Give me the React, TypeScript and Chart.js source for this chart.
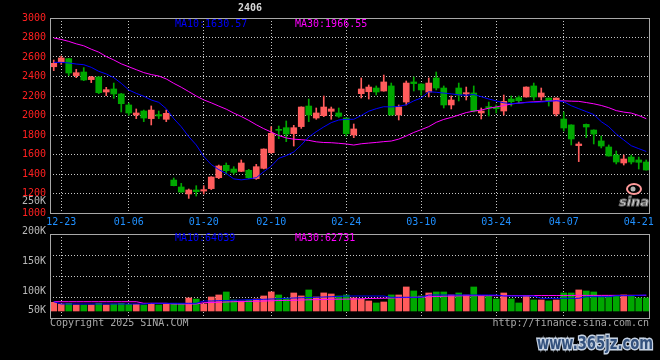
import React, { useEffect, useRef } from 'react';
import { Chart, registerables } from 'chart.js';

Chart.register(...registerables);

// ---------- data ----------
const dates: string[] = [
  '12-20', '12-23', '12-24', '12-25', '12-26', '12-27', '12-30', '12-31', '01-02', '01-03',
  '01-06', '01-07', '01-08', '01-09', '01-10', '01-13', '01-14', '01-15', '01-16', '01-17',
  '01-20', '01-21', '01-22', '01-23', '01-24', '01-27', '02-05', '02-06', '02-07',
  '02-10', '02-11', '02-12', '02-13', '02-14', '02-17', '02-18', '02-19', '02-20', '02-21',
  '02-24', '02-25', '02-26', '02-27', '02-28', '03-03', '03-04', '03-05', '03-06', '03-07',
  '03-10', '03-11', '03-12', '03-13', '03-14', '03-17', '03-18', '03-19', '03-20', '03-21',
  '03-24', '03-25', '03-26', '03-27', '03-28', '03-31', '04-01', '04-02', '04-03',
  '04-07', '04-08', '04-09', '04-10', '04-11', '04-14', '04-15', '04-16', '04-17', '04-18',
  '04-21', '04-22',
];

const tickDates: string[] = ['12-23', '01-06', '01-20', '02-10', '02-24', '03-10', '03-24', '04-07', '04-21'];
const gridDates: string[] = ['12-23', '01-06', '01-20', '02-10', '02-24', '03-10', '03-24', '04-07'];

const opens: number[] = [
  2500, 2552, 2583, 2409, 2446, 2368, 2395, 2241, 2272, 2221,
  2108, 2005, 2046, 1968, 2009, 1961, 1338, 1267, 1195, 1236,
  1225, 1250, 1362, 1489, 1451, 1427, 1438, 1352, 1458, 1619,
  1858, 1875, 1814, 1886, 2097, 1974, 1998, 2043, 2026, 1974,
  1800, 2224, 2244, 2282, 2251, 2303, 2005, 2138, 2344, 2323,
  2241, 2385, 2282, 2108, 2282, 2221, 2231, 2026, 2091, 2084,
  2046, 2169, 2183, 2190, 2303, 2190, 2179, 2015, 1964, 1903,
  1691, 1909, 1851, 1739, 1677, 1595, 1513, 1574, 1544, 1523,
];
const highs: number[] = [
  2569, 2610, 2586, 2474, 2491, 2402, 2398, 2289, 2333, 2227,
  2128, 2067, 2056, 2098, 2046, 2056, 1359, 1304, 1246, 1280,
  1280, 1372, 1492, 1513, 1475, 1544, 1448, 1499, 1658, 1885,
  1892, 1944, 1899, 2089, 2169, 2077, 2200, 2087, 2077, 1976,
  1913, 2385, 2313, 2303, 2415, 2333, 2108, 2354, 2395, 2326,
  2385, 2446, 2303, 2200, 2333, 2292, 2303, 2077, 2138, 2108,
  2210, 2200, 2200, 2294, 2333, 2282, 2181, 2181, 2036, 1905,
  1728, 1913, 1853, 1790, 1698, 1636, 1595, 1595, 1574, 1544,
];
const lows: number[] = [
  2460, 2525, 2409, 2388, 2357, 2337, 2224, 2203, 2176, 2036,
  2002, 1968, 1937, 1903, 1968, 1937, 1278, 1212, 1150, 1174,
  1195, 1240, 1352, 1400, 1400, 1424, 1352, 1345, 1452, 1612,
  1762, 1732, 1687, 1868, 1937, 1961, 1988, 1961, 1981, 1790,
  1773, 2179, 2169, 2210, 2249, 2003, 1954, 2108, 2251, 2210,
  2190, 2262, 2077, 2067, 2149, 2159, 2036, 1964, 1995, 2026,
  2005, 2097, 2128, 2188, 2159, 2159, 2097, 1995, 1841, 1698,
  1527, 1773, 1708, 1667, 1583, 1503, 1492, 1503, 1451, 1439,
];
const closes: number[] = [
  2535, 2590, 2436, 2439, 2364, 2395, 2234, 2265, 2221, 2121,
  2026, 2026, 1974, 2056, 1995, 2022, 1280, 1215, 1236, 1219,
  1240, 1369, 1482, 1434, 1417, 1513, 1362, 1475, 1656, 1817,
  1848, 1810, 1875, 2087, 2005, 2026, 2087, 2067, 1992, 1814,
  1862, 2272, 2292, 2241, 2344, 2005, 2087, 2333, 2327, 2262,
  2333, 2282, 2108, 2159, 2210, 2234, 2046, 2046, 2077, 2070,
  2145, 2142, 2152, 2292, 2190, 2231, 2152, 2179, 1872, 1759,
  1708, 1882, 1810, 1687, 1585, 1523, 1554, 1523, 1520, 1441,
];
const ma10: number[] = [
  2545, 2545, 2539, 2528, 2521, 2494, 2453, 2426, 2388, 2330,
  2262, 2227, 2197, 2159, 2135, 2070, 1968, 1885, 1783, 1698,
  1580, 1497, 1445, 1405, 1350, 1340, 1350, 1362, 1424, 1480,
  1561, 1588, 1626, 1697, 1780, 1834, 1883, 1927, 1954, 1961,
  1961, 2000, 2044, 2070, 2090, 2088, 2094, 2110, 2150, 2180,
  2244, 2238, 2230, 2222, 2212, 2208, 2215, 2193, 2169, 2150,
  2130, 2122, 2126, 2132, 2135, 2138, 2145, 2152, 2142, 2100,
  2070, 2040, 2010, 1937, 1885, 1810, 1749, 1690, 1660, 1631,
];
const ma30: number[] = [
  2795, 2780, 2760, 2735, 2715, 2680, 2650, 2605, 2570, 2530,
  2500, 2470, 2440, 2420, 2405, 2375, 2330, 2290, 2245, 2200,
  2160, 2130, 2097, 2065, 2025, 1990, 1950, 1905, 1865, 1830,
  1795, 1770, 1757, 1752, 1745, 1730, 1723, 1721, 1715, 1708,
  1697, 1710, 1717, 1724, 1732, 1738, 1758, 1790, 1826, 1855,
  1886, 1930, 1960, 1980, 2005, 2030, 2045, 2056, 2075, 2088,
  2102, 2118, 2127, 2135, 2140, 2145, 2148, 2152, 2150, 2147,
  2145, 2133, 2120, 2103, 2080, 2050, 2035, 2025, 2000, 1967,
];
const volumes: number[] = [
  34800, 28100, 30700, 24200, 23900, 24100, 30900, 24300, 28000, 30800,
  26700, 26900, 24100, 30600, 24200, 26800, 30900, 30700, 52100, 47900,
  28200, 56100, 64200, 76100, 44100, 40200, 43900, 48100, 60200, 76300,
  64100, 52200, 72100, 60300, 84200, 56100, 72300, 68100, 60200, 64100,
  52300, 48100, 40100, 32200, 36100, 64200, 64100, 96200, 80100, 60300,
  72100, 76200, 76100, 64300, 72200, 64100, 96100, 60200, 60100, 48200,
  72100, 48300, 32100, 60200, 44200, 44100, 40300, 44100, 72200, 72100,
  84300, 80100, 76200, 60100, 60300, 60200, 64100, 60200, 52100, 52300,
];
const volMa10: number[] = [
  37200, 28000, 28000, 28000, 28000, 28000, 28000, 28000, 28000, 28000,
  28000, 28000, 28000, 30800, 30800, 30800, 30800, 30800, 30800, 30800,
  40000, 40000, 41200, 42000, 43000, 44000, 45000, 46000, 46800, 48000,
  49000, 50800, 52000, 53000, 54000, 54800, 56000, 57000, 58000, 60000,
  60000, 60000, 60000, 60000, 60000, 54800, 54800, 54800, 54800, 54800,
  64000, 64000, 64000, 64000, 64000, 64000, 64000, 64000, 64000, 64000,
  60000, 60000, 60000, 60000, 60000, 50800, 50800, 50800, 50800, 50800,
  50800, 57200, 57200, 57200, 57200, 61200, 61200, 61200, 62500, 64039,
];
const volMa30: number[] = [
  37200, 37200, 37200, 37200, 37200, 37200, 37200, 37200, 37200, 37200,
  37200, 37200, 30800, 30800, 30800, 30800, 28000, 28000, 28000, 28000,
  33200, 34000, 35000, 36000, 37200, 38000, 38500, 39000, 40000, 41000,
  42000, 42500, 43000, 44000, 45000, 45500, 46000, 46800, 47200, 47500,
  48000, 49000, 50000, 50500, 51000, 52000, 53000, 54000, 55000, 56000,
  57200, 58000, 59000, 60000, 60500, 61200, 61200, 61300, 61300, 61400,
  61400, 61500, 61500, 61600, 61700, 61800, 61900, 62000, 62100, 62200,
  62300, 62400, 62400, 62500, 62500, 62600, 62600, 62700, 62700, 62731,
];
const priceMa10Last = '1630.57';
const priceMa30Last = '1966.55';
const volMa10Last = '64039';
const volMa30Last = '62731';
const volAxisValues: number[] = [250000, 200000, 150000, 100000, 50000];
const volAxisTexts: string[] = ['250K', '200K', '150K', '100K', '50K'];
const titleText = '2406';

// ---------- styles ----------
const UP = '#ff5c5c';
const DOWN = '#00a800';
const GRID = '#c8c8c8';
const FRAME = '#a8a8a8';
const MONO = '"DejaVu Sans Mono", "Liberation Mono", monospace';

const candleColors = closes.map((c, i) => (c >= opens[i] ? UP : DOWN));

function xScaleOpts(showTicks: boolean, height: number) {
  return {
    offset: true,
    grid: {
      offset: false,
      drawTicks: false,
      color: (ctx: any) => (gridDates.includes(dates[ctx.index]) ? GRID : 'rgba(0,0,0,0)'),
    },
    border: { display: false, dash: [1, 2] },
    ticks: {
      display: showTicks,
      autoSkip: false,
      maxRotation: 0,
      minRotation: 0,
      padding: 3,
      color: '#2090ff',
      font: { family: MONO, size: 10 },
      callback: (_v: any, i: number) => (tickDates.includes(dates[i]) ? dates[i] : ''),
    },
    afterFit: (s: any) => {
      s.height = height;
    },
  };
}

function frame(chart: any) {
  const { ctx, chartArea: a } = chart;
  ctx.save();
  ctx.strokeStyle = FRAME;
  ctx.lineWidth = 1;
  ctx.strokeRect(Math.round(a.left) + 0.5, Math.round(a.top) + 0.5, Math.round(a.right - a.left) - 1, Math.round(a.bottom - a.top));
  ctx.restore();
}

export default function App() {
  const priceRef = useRef<HTMLCanvasElement | null>(null);
  const volRef = useRef<HTMLCanvasElement | null>(null);

  useEffect(() => {
    if (!priceRef.current || !volRef.current) return;

    const priceOverlay = {
      id: 'priceOverlay',
      afterDraw(chart: any) {
        const { ctx, chartArea: a } = chart;
        frame(chart);
        ctx.save();
        ctx.textBaseline = 'middle';
        ctx.font = `10px ${MONO}`;
        ctx.textAlign = 'left';
        ctx.fillStyle = '#0000ff';
        ctx.fillText('MA10:' + priceMa10Last, a.left + 125, a.top + 6);
        ctx.fillStyle = '#ff00ff';
        ctx.fillText('MA30:' + priceMa30Last, a.left + 245, a.top + 6);
        // title
        ctx.textAlign = 'center';
        ctx.fillStyle = '#d8d8d8';
        ctx.font = `bold 10px ${MONO}`;
        ctx.fillText(titleText, a.left + 200, 8);
        // sina logo
        ctx.strokeStyle = '#ff9a9a';
        ctx.lineWidth = 2;
        ctx.beginPath();
        ctx.ellipse(a.right - 16, a.bottom - 24, 7, 5, 0, 0, Math.PI * 2);
        ctx.stroke();
        ctx.fillStyle = '#b0b0b0';
        ctx.beginPath();
        ctx.arc(a.right - 17, a.bottom - 24, 2.5, 0, Math.PI * 2);
        ctx.fill();
        ctx.font = 'italic bold 13px "DejaVu Sans", sans-serif';
        ctx.fillStyle = '#d0d0d0';
        ctx.strokeStyle = '#707070';
        ctx.lineWidth = 1;
        ctx.fillText('sina', a.right - 16, a.bottom - 10);
        ctx.strokeText('sina', a.right - 16, a.bottom - 10);
        ctx.restore();
      },
    };

    const priceChart = new Chart(priceRef.current, {
      type: 'bar',
      data: {
        labels: dates,
        datasets: [
          {
            type: 'line',
            data: ma10,
            borderColor: '#0000ff',
            borderWidth: 1,
            pointRadius: 0,
            tension: 0,
            order: 0,
          } as any,
          {
            type: 'line',
            data: ma30,
            borderColor: '#ff00ff',
            borderWidth: 1,
            pointRadius: 0,
            tension: 0,
            order: 0,
          } as any,
          {
            type: 'bar',
            data: lows.map((l, i) => [l, highs[i]]),
            backgroundColor: candleColors,
            barThickness: 1,
            grouped: false,
            order: 2,
          } as any,
          {
            type: 'bar',
            data: opens.map((o, i) => [Math.min(o, closes[i]), Math.max(o, closes[i])]),
            backgroundColor: candleColors,
            barThickness: 6,
            minBarLength: 1,
            grouped: false,
            order: 1,
          } as any,
        ],
      },
      options: {
        animation: false,
        responsive: false,
        maintainAspectRatio: false,
        layout: { padding: { top: 18, right: 10, bottom: 127, left: 0 } },
        plugins: { legend: { display: false }, tooltip: { enabled: false } },
        scales: {
          x: xScaleOpts(true, 20) as any,
          y: {
            min: 1000,
            max: 3000,
            grid: { color: GRID, drawTicks: false },
            border: { display: false, dash: [1, 2] },
            ticks: {
              stepSize: 200,
              padding: 4,
              color: '#ff2020',
              font: { family: MONO, size: 10 },
              callback: (v: any) => String(v),
            },
            afterFit: (s: any) => {
              s.width = 50;
            },
          } as any,
        },
      },
      plugins: [priceOverlay],
    });

    const volMin = -28000;
    const volMax = 308000;
    const volOverlay = {
      id: 'volOverlay',
      afterDraw(chart: any) {
        const { ctx, chartArea: a } = chart;
        frame(chart);
        ctx.save();
        ctx.textBaseline = 'middle';
        ctx.font = `10px ${MONO}`;
        ctx.textAlign = 'left';
        ctx.fillStyle = '#0000ff';
        ctx.fillText('MA10:' + volMa10Last, a.left + 125, a.top + 4.5);
        ctx.fillStyle = '#ff00ff';
        ctx.fillText('MA30:' + volMa30Last, a.left + 245, a.top + 4.5);
        // axis labels
        ctx.fillStyle = '#b8b8b8';
        ctx.textAlign = 'right';
        volAxisValues.forEach((v, k) => {
          const y = Math.min(a.top - 3 + ((200000 - v) / 50000) * 30, a.bottom - 8);
          ctx.fillText(volAxisTexts[k], a.left - 4, y);
        });
        // footer
        ctx.fillStyle = '#a8a8a8';
        ctx.textAlign = 'left';
        ctx.fillText('Copyright 2025 SINA.COM', a.left, a.bottom + 5);
        ctx.textAlign = 'right';
        ctx.fillText('http://finance.sina.com.cn', a.right - 1, a.bottom + 5);
        // watermark
        ctx.textAlign = 'left';
        ctx.font = 'bold 17px "DejaVu Sans", sans-serif';
        ctx.lineWidth = 3;
        ctx.strokeStyle = '#c8d4e4';
        ctx.strokeText('www.365jz.com', 537, 345, 116);
        ctx.fillStyle = '#34527e';
        ctx.fillText('www.365jz.com', 537, 345, 116);
        ctx.restore();
      },
    };

    const volChart = new Chart(volRef.current, {
      type: 'bar',
      data: {
        labels: dates,
        datasets: [
          {
            type: 'line',
            data: volMa10,
            borderColor: '#0000ff',
            borderWidth: 1,
            pointRadius: 0,
            tension: 0,
            order: 0,
          } as any,
          {
            type: 'line',
            data: volMa30,
            borderColor: '#ff00ff',
            borderWidth: 1,
            pointRadius: 0,
            tension: 0,
            order: 0,
          } as any,
          {
            type: 'bar',
            data: volumes,
            backgroundColor: candleColors,
            barThickness: 6,
            order: 1,
          } as any,
        ],
      },
      options: {
        animation: false,
        responsive: false,
        maintainAspectRatio: false,
        layout: { padding: { top: 234, right: 10, bottom: 42, left: 0 } },
        plugins: { legend: { display: false }, tooltip: { enabled: false } },
        scales: {
          x: xScaleOpts(false, 0) as any,
          y: {
            min: volMin,
            max: volMax,
            grid: { color: GRID, drawTicks: false },
            border: { display: false, dash: [1, 2] },
            ticks: { display: false },
            afterBuildTicks: (s: any) => {
              s.ticks = [0, 1, 2, 3, 4].map((k) => ({ value: volMin + (k * (volMax - volMin)) / 4 }));
            },
            afterFit: (s: any) => {
              s.width = 50;
            },
          } as any,
        },
      },
      plugins: [volOverlay],
    });

    return () => {
      priceChart.destroy();
      volChart.destroy();
    };
  }, []);

  return (
    <div style={{ position: 'fixed', left: 0, top: 0, width: 660, height: 360, background: '#000', overflow: 'hidden' }}>
      <canvas ref={priceRef} width={660} height={360} style={{ position: 'absolute', left: 0, top: 0 }} />
      <canvas ref={volRef} width={660} height={360} style={{ position: 'absolute', left: 0, top: 0 }} />
    </div>
  );
}
